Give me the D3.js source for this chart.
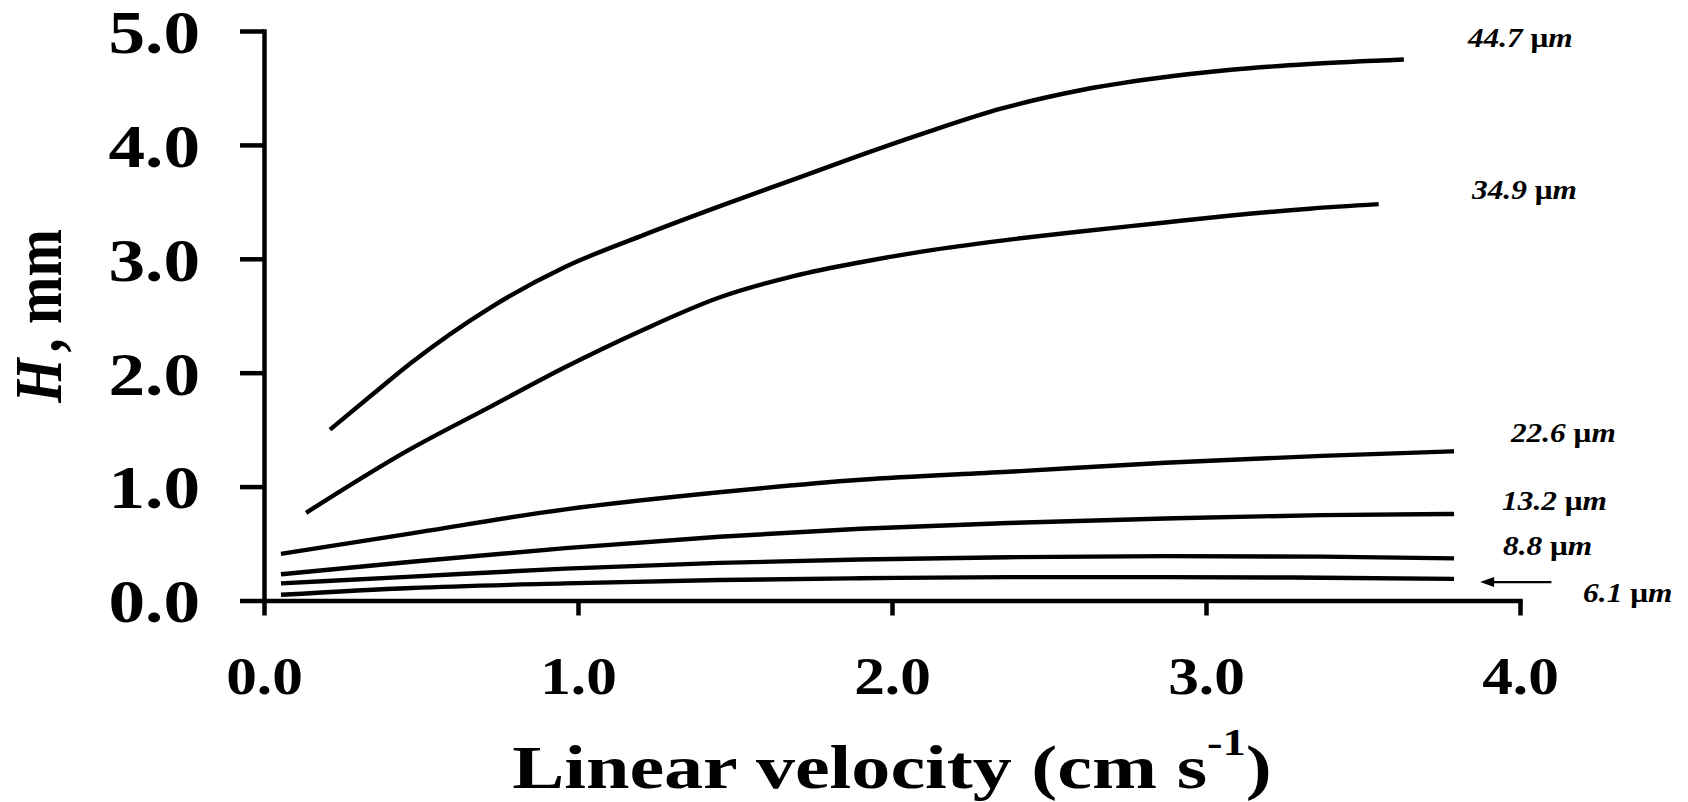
<!DOCTYPE html>
<html>
<head>
<meta charset="utf-8">
<script src="https://cdn.jsdelivr.net/npm/d3@7"></script>
<style>
  body { margin: 0; background: #fff; }
  svg { display: block; }
</style>
</head>
<body>
<div class="chart"></div>
<script>
// particle sizes (legend text)
var sizes = ["44.7", "34.9", "22.6", "13.2", "8.8", "6.1"];

// linear velocity (cm/s) and plate height H (mm)
var v447 = [0.21, 0.35, 0.47, 0.72, 0.96, 1.21, 1.45, 1.69, 1.90, 2.11, 2.35, 2.60, 2.84, 3.08, 3.33, 3.63];
var h447 = [1.50, 1.82, 2.09, 2.57, 2.93, 3.21, 3.46, 3.70, 3.91, 4.11, 4.32, 4.48, 4.585, 4.66, 4.71, 4.75];

var v349 = [0.134, 0.46, 0.72, 0.96, 1.21, 1.45, 1.69, 1.90, 2.11, 2.35, 2.60, 2.84, 3.08, 3.33, 3.55];
var h349 = [0.77, 1.32, 1.70, 2.05, 2.38, 2.66, 2.85, 2.97, 3.07, 3.16, 3.24, 3.31, 3.38, 3.44, 3.48];

var vLow = [0.054, 0.47, 0.96, 1.45, 1.90, 2.37, 2.87, 3.37, 3.79];
var h226 = [0.41, 0.59, 0.80, 0.95, 1.06, 1.13, 1.21, 1.27, 1.31];
var h132 = [0.23, 0.34, 0.46, 0.56, 0.63, 0.68, 0.72, 0.75, 0.76];
var h88  = [0.15, 0.21, 0.28, 0.33, 0.36, 0.38, 0.39, 0.385, 0.37];
var h61  = [0.05, 0.11, 0.15, 0.18, 0.195, 0.205, 0.205, 0.20, 0.19];

var xTicks = [0, 1, 2, 3, 4];
var yTicks = [0, 1, 2, 3, 4, 5];

// where each size label sits, in axis units (velocity, H)
var labelAt = [[3.834, 4.86], [3.847, 3.525], [3.971, 1.392], [3.943, 0.795], [3.946, 0.40], [4.201, -0.013]];
var arrowFrom = [4.10, 0.162], arrowTo = [3.873, 0.162];

var w = 1688, h = 802;
var serif = "'Liberation Serif', 'Times New Roman', Times, serif";

function pts(vs, hs) {
	return vs.map(function (d, i) { return { v: d, h: hs[i] }; });
}
var series = [
	pts(v447, h447), pts(v349, h349), pts(vLow, h226),
	pts(vLow, h132), pts(vLow, h88), pts(vLow, h61)
];

var x = d3.scaleLinear().domain([0, 4]).range([264, 1520]);
var y = d3.scaleLinear().domain([0, 5]).range([600.5, 31]);
var fmt = d3.format(".1f");

var svg = d3.select(".chart")
	.append("svg")
	.attr("width", w)
	.attr("height", h);

// x axis
var gx = svg.append("g")
	.attr("transform", "translate(0," + y(0) + ")")
	.call(d3.axisBottom(x).tickValues(xTicks).tickFormat(fmt).tickSize(15).tickSizeOuter(0));
gx.select(".domain").attr("stroke-width", 4.5).attr("stroke-linecap", "square");
gx.selectAll(".tick line").attr("stroke-width", 4.5);
gx.selectAll(".tick text")
	.attr("y", 0).attr("dy", 0)
	.attr("transform", "translate(0,93) scale(1.18,1)")
	.attr("font-family", serif).attr("font-weight", "bold")
	.attr("font-size", 52).attr("fill", "#000");

// y axis
var gy = svg.append("g")
	.attr("transform", "translate(" + x(0) + ",0)")
	.call(d3.axisLeft(y).tickValues(yTicks).tickFormat(fmt).tickSize(24).tickSizeOuter(0));
gy.select(".domain").attr("stroke-width", 4.5).attr("stroke-linecap", "square");
gy.selectAll(".tick line").attr("stroke-width", 4.5);
gy.selectAll(".tick text")
	.attr("x", 0).attr("dy", "0.35em")
	.attr("transform", "translate(-64,0) scale(1.2,1)")
	.attr("font-family", serif).attr("font-weight", "bold")
	.attr("font-size", 61).attr("fill", "#000");

// curves
var line = d3.line()
	.x(function (d) { return x(d.v); })
	.y(function (d) { return y(d.h); })
	.curve(d3.curveMonotoneX);

svg.append("g")
	.selectAll("path")
	.data(series)
	.enter()
	.append("path")
	.attr("d", line)
	.attr("fill", "none")
	.attr("stroke", "#000")
	.attr("stroke-width", 4.4)
	.attr("stroke-linecap", "butt");

// size labels
var lab = svg.append("g")
	.selectAll("text")
	.data(sizes)
	.enter()
	.append("text")
	.attr("transform", function (d, i) {
		return "translate(" + x(labelAt[i][0]) + "," + y(labelAt[i][1]) + ") scale(1.12,1)";
	})
	.attr("font-family", serif)
	.attr("font-weight", "bold")
	.attr("font-style", "italic")
	.attr("font-size", 28);
lab.append("tspan").text(function (d) { return d + " "; });
lab.append("tspan").attr("font-style", "normal").text("\u03bc");
lab.append("tspan").text("m");

// arrow pointing at the 6.1 um curve
svg.append("line")
	.attr("x1", x(arrowFrom[0])).attr("y1", y(arrowFrom[1]))
	.attr("x2", x(arrowTo[0]) + 10).attr("y2", y(arrowTo[1]))
	.attr("stroke", "#000").attr("stroke-width", 2.2);
var ax = x(arrowTo[0]), ay = y(arrowTo[1]);
svg.append("path")
	.attr("d", "M" + ax + "," + ay + "L" + (ax + 14) + "," + (ay - 5) + "L" + (ax + 14) + "," + (ay + 5) + "Z")
	.attr("fill", "#000");

// axis titles
var xt = svg.append("text")
	.attr("transform", "translate(892,788) scale(1.26,1)")
	.attr("text-anchor", "middle")
	.attr("font-family", serif)
	.attr("font-weight", "bold")
	.attr("font-size", 62);
xt.append("tspan").text("Linear velocity (cm s");
xt.append("tspan").attr("font-size", 37).attr("dy", -33).text("-1");
xt.append("tspan").attr("dy", 33).text(")");

var yt = svg.append("text")
	.attr("transform", "translate(61,316) rotate(-90) scale(1,1.2)")
	.attr("text-anchor", "middle")
	.attr("font-family", serif)
	.attr("font-weight", "bold")
	.attr("font-size", 57);
yt.append("tspan").attr("font-style", "italic").text("H");
yt.append("tspan").attr("dx", 6).text(", mm");
</script>
</body>
</html>
